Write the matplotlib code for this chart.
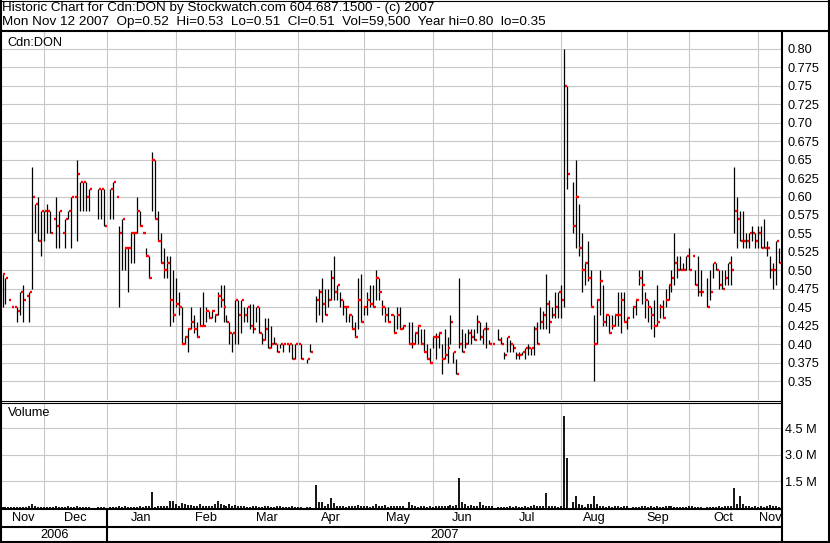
import matplotlib
matplotlib.use("Agg")
import matplotlib.pyplot as plt
import matplotlib.transforms as mtransforms
import numpy as np
import pandas as pd

plt.rcParams['font.family'] = ['Liberation Sans', 'DejaVu Sans']

# one entry per weekday from Nov 13 2006 to Nov 12 2007, None = no trade / holiday
first_day = "2006-11-13"
last_day = "2007-11-12"

high = [
    # Nov 2006
    .495, .49, .46, .45, .45, .45, .47, .48, .465, .47, .64, .59, .60, .58,
    # Dec
    .58, .59, .58, .57, .60, .58, .55, .57, .58, .60, .60, .65, .62, .62, .62, .61, None, None, .61, .61, .61,
    # Jan 2007
    None, .61, .62, .60, .56, .57, .53, .53, .55, .55, .60, .58, .55, .53, .52, .66, .65, .58, .55, .53, .52, .52, .50,
    # Feb
    .49, .47, .45, .41, .42, .45, .44, .43, .45, .47, .45, .445, .445, .44, .47, .48, .48, .44, .43, .415,
    # Mar
    .46, .46, .46, .45, .45, .455, .455, .45, .45, .415, .435, .435, .425, .41, .40, .40, .40, .40, .40, .40, .40, .40,
    # Apr
    .40, None, .38, .40, None, .465, .475, .49, .475, .475, .50, .52, .48, .47, .46, .45, .44, .44, .43, .49, .495,
    # May
    .45, .47, .48, .48, .50, .49, .46, .45, .45, .44, .44, .45, .45, .425, None, .43, .43, .415, .425, .42, .42, .40, .395,
    # Jun
    .41, .415, .415, .40, .42, .41, .44, .39, .38, .49, .42, .415, .42, .42, .42, .44, .43, .42, .43, .405, .40,
    # Jul
    None, .42, .41, .39, .41, .405, .40, .39, .39, .39, .395, .40, .395, .425, .43, .45, .445, .495, .46, .45, .47, .47,
    # Aug
    .48, .80, .75, None, .62, .65, .59, .55, .51, .54, .50, .44, .46, .50, .48, .44, .44, .44, .44, .47, .47, .47, .435,
    # Sep
    None, .45, .46, .50, .50, .47, .46, .45, .46, .48, .455, .46, .475, .48, .50, .55, .52, .52, .51, .52,
    # Oct
    .53, .52, .50, .52, .50, None, .49, .50, .51, .51, .50, .50, .50, .51, .52, .64, .60, .58, .58, .55, .55, .56, .55,
    # Nov
    .56, .56, .57, .54, .52, .51, .54, .53,
]

low = [
    .45, .455, .46, .45, .45, .43, .44, .43, .465, .43, .475, .55, .54, .52,
    .54, .55, .55, .57, .53, .53, .55, .53, .57, .53, .60, .54, .58, .58, .58, .58, None, None, .57, .57, .56,
    None, .57, .57, .60, .45, .50, .50, .47, .51, .51, .55, .56, .55, .52, .49, .58, .57, .54, .51, .49, .49, .425, .43,
    .45, .44, .40, .40, .39, .42, .415, .41, .425, .425, .43, .435, .435, .43, .44, .45, .43, .43, .40, .39,
    .40, .40, .415, .43, .43, .42, .415, .43, .415, .40, .405, .395, .395, .40, .39, .395, .39, .40, .39, .38, .38, .40,
    .38, None, .375, .39, None, .43, .44, .43, .44, .45, .46, .46, .46, .45, .44, .43, .43, .42, .41, .42, .43,
    .44, .44, .45, .45, .46, .46, .44, .43, .43, .44, .415, .42, .42, .42, None, .40, .395, .40, .40, .40, .39, .38, .375,
    .395, .38, .395, .36, .38, .375, .40, .375, .36, .395, .39, .395, .40, .40, .405, .415, .405, .40, .395, .40, .40,
    None, .405, .40, .38, .39, .39, .39, .38, .38, .385, .38, .385, .385, .385, .40, .42, .42, .42, .415, .435, .435, .435,
    .435, .45, .61, None, .55, .53, .52, .47, .48, .485, .45, .35, .40, .44, .425, .425, .415, .42, .425, .425, .415, .43, .42,
    None, .435, .44, .48, .455, .435, .43, .42, .41, .425, .435, .435, .45, .46, .47, .48, .49, .50, .50, .50,
    .50, .52, .48, .465, .465, None, .45, .46, .49, .50, .475, .475, .48, .48, .48, .55, .53, .54, .53, .53, .53, .54, .53,
    .53, .53, .53, .52, .49, .475, .48, .51,
]

close = [
    .495, .49, .46, .45, .45, .445, .47, .46, .465, .47, .60, .59, .54, .58,
    .58, .58, .55, .57, .56, .58, .55, .57, .58, .60, .60, .63, .62, .62, .60, .61, None, None, .61, .61, .56,
    None, .61, .62, .60, .55, .57, .53, .53, .55, .55, .58, .56, .55, .52, .49, .65, .57, .54, .51, .50, .51, .46, .44,
    .455, .45, .40, .41, .42, .43, .42, .41, .425, .425, .445, .435, .445, .44, .465, .46, .45, .43, .415, .415,
    .46, .44, .46, .44, .45, .425, .42, .45, .415, .405, .42, .395, .40, .40, .39, .40, .40, .40, .40, .38, .40, .40,
    .38, None, .38, .39, None, .46, .47, .455, .44, .46, .49, .47, .48, .46, .45, .45, .44, .42, .41, .46, .43,
    .45, .46, .455, .45, .49, .47, .45, .44, .43, .44, .415, .44, .42, .425, None, .40, .40, .415, .425, .40, .39, .38, .375,
    .41, .41, .415, .38, .385, .395, .43, .39, .36, .40, .39, .40, .415, .41, .405, .43, .41, .42, .42, .40, .40,
    None, .405, .40, .385, .41, .40, .395, .385, .385, .39, .395, .395, .395, .42, .40, .43, .44, .455, .43, .44, .45, .47,
    .46, .75, .63, None, .56, .60, .53, .50, .51, .49, .45, .40, .46, .485, .43, .44, .415, .425, .44, .44, .46, .43, .435,
    None, .45, .46, .49, .48, .46, .45, .44, .425, .43, .45, .435, .46, .48, .49, .51, .50, .50, .50, .52,
    .50, .52, .48, .47, .47, None, .45, .47, .51, .50, .48, .475, .49, .51, .50, .58, .57, .54, .54, .54, .55, .55, .54,
    .55, .53, .53, .53, .50, .50, .54, .51,
]

# daily volume in thousands of shares
volume_k = [
    60, 80, 40, 50, 40, 70, 60, 80, 40, 90, 250, 100, 80, 60,
    60, 70, 50, 40, 130, 80, 50, 60, 90, 70, 40, 110, 80, 60, 70, 50, None, None, 40, 50, 30,
    None, 60, 70, 40, 90, 80, 100, 60, 70, 50, 80, 90, 60, 130, 100, 920, 80, 130, 90, 130, 120, 380, 380,
    220, 130, 280, 220, 160, 160, 120, 120, 200, 120, 90, 90, 130, 200, 400, 240, 150, 90, 200, 120,
    160, 120, 90, 110, 70, 80, 100, 120, 80, 70, 90, 110, 80, 60, 120, 90, 70, 60, 80, 100, 60, 50,
    80, None, 50, 70, None, 1300, 320, 320, 130, 200, 570, 290, 130, 100, 90, 80, 90, 110, 100, 160, 130,
    90, 100, 80, 120, 200, 110, 90, 150, 80, 100, 130, 120, 140, 90, None, 320, 150, 90, 80, 110, 100, 70, 120,
    80, 100, 90, 140, 120, 100, 160, 130, 150, 1700, 320, 210, 110, 170, 100, 90, 320, 160, 100, 90, 110,
    None, 60, 70, 80, 60, 90, 80, 100, 60, 70, 90, 80, 130, 150, 90, 100, 120, 870, 100, 130, 110, 60,
    120, 5200, 2840, None, 350, 700, 200, 150, 60, 250, 250, 700, 200, 100, 90, 80, 110, 70, 90, 120, 80, 100, 110,
    None, 60, 70, 80, 110, 90, 80, 100, 80, 90, 60, 70, 100, 110, 90, 70, 80, 70, 60, 70,
    110, 100, 70, 60, 80, None, 70, 60, 80, 60, 100, 80, 90, 120, 100, 1100, 250, 650, 200, 100, 90, 80, 100,
    80, 90, 70, 100, 150, 120, 140, 60,
]

month_labels = ["Nov", "Dec", "Jan", "Feb", "Mar", "Apr", "May", "Jun", "Jul", "Aug", "Sep", "Oct", "Nov"]
year_labels = ["2006", "2007"]
price_ticks = np.arange(0.35, 0.8001, 0.025)
vol_ticks = [1.5e6, 3.0e6, 4.5e6]
vol_labels = ["1.5 M", "3.0 M", "4.5 M"]

header1 = "Historic Chart for Cdn:DON by Stockwatch.com 604.687.1500 - (c) 2007"
header2 = ("Mon Nov 12 2007  Op=0.52  Hi=0.53  Lo=0.51  Cl=0.51  Vol=59,500  "
           "Year hi=0.80  lo=0.35")

days = pd.bdate_range(first_day, last_day)
assert len(days) == len(high) == len(low) == len(close) == len(volume_k)
x = np.arange(len(days))
h = np.array(high, dtype=float)
l = np.array(low, dtype=float)
c = np.array(close, dtype=float)
v = np.array(volume_k, dtype=float) * 1000

# month grid lines: first trading weekday, or the Friday before if the 1st is a weekend
grid_x = []
for ms in pd.date_range("2006-12-01", "2007-11-01", freq="MS"):
    i = days.searchsorted(ms)
    if ms.weekday() >= 5:
        i -= 1
    grid_x.append(i)
jan_x = grid_x[1]

x_lo, x_hi = -0.17, 261.0
W, H = 830, 543


def box(left, top, right, bottom):
    return [left / W, 1 - bottom / H, (right - left) / W, (bottom - top) / H]


fig = plt.figure(figsize=(8.3, 5.43), dpi=100)
ax_p = fig.add_axes(box(2, 32, 782, 400))
ax_v = fig.add_axes(box(2, 403, 782, 508))
ov = fig.add_axes([0, 0, 1, 1])
ov.set_xlim(0, W)
ov.set_ylim(H, 0)
ov.axis('off')
ov.set_zorder(5)

gcol = '#c8c8c8'
fs = 9.2
fs_head = 9.7

# price panel: high-low bar with red close tick on the right
ok = ~np.isnan(c)
ax_p.vlines(x[ok], l[ok], h[ok], colors='black', linewidth=0.9)
ax_p.hlines(c[ok], x[ok] + 0.18, x[ok] + 1.0, colors='#ff0000', linewidth=1.7, zorder=3)
ax_p.set_xlim(x_lo, x_hi)
ax_p.set_ylim(0.3243, 0.8229)
ax_p.set_xticks(grid_x)
ax_p.set_yticks(price_ticks)
ax_p.set_yticklabels([(f"{t:.3f}"[:-1] if f"{t:.3f}".endswith("0") else f"{t:.3f}") for t in price_ticks])
ax_p.yaxis.tick_right()
ax_p.tick_params(axis='x', length=0, labelbottom=False)
ax_p.tick_params(axis='y', length=0, pad=3.6, labelsize=fs)
ax_p.grid(True, color=gcol, linewidth=0.8)
ax_p.set_axisbelow(True)
for s in ax_p.spines.values():
    s.set_visible(False)
ax_p.text(0.007, 0.987, "Cdn:DON", transform=ax_p.transAxes, va='top', ha='left', fontsize=fs)

# volume panel
okv = ~np.isnan(v)
ax_v.vlines(x[okv], 0, v[okv], colors='black', linewidth=1.3)
ax_v.set_xlim(x_lo, x_hi)
ax_v.set_ylim(0, 5.92e6)
ax_v.set_xticks(grid_x)
ax_v.set_yticks(vol_ticks)
ax_v.set_yticklabels(vol_labels)
ax_v.yaxis.tick_right()
ax_v.tick_params(axis='x', length=0, labelbottom=False)
ax_v.tick_params(axis='y', length=0, pad=2.5, labelsize=fs)
ax_v.grid(True, color=gcol, linewidth=0.8)
ax_v.set_axisbelow(True)
for s in ax_v.spines.values():
    s.set_visible(False)
ax_v.text(0.008, 0.96, "Volume", transform=ax_v.transAxes, va='top', ha='left', fontsize=fs)

# frame lines (pixel coordinates)
k = dict(color='black', clip_on=False, solid_capstyle='butt')
ov.plot([0, W], [31, 31], lw=1.5, **k)
ov.plot([1, 1], [0, H], lw=1.5, **k)
ov.plot([W - 1, W - 1], [0, H], lw=1.5, **k)
ov.plot([0, W], [H - 1, H - 1], lw=1.5, **k)
ov.plot([0, W], [0.5, 0.5], lw=0.8, **k)
ov.plot([782, 782], [31, H], lw=1.5, **k)
ov.plot([0, 782], [400.5, 400.5], lw=0.8, **k)
ov.plot([0, 782], [402.5, 402.5], lw=0.8, **k)
ov.plot([0, 782], [509, 509], lw=1.5, **k)
ov.plot([0, 782], [526.5, 526.5], lw=1.5, **k)

# month and year rows
tr = mtransforms.blended_transform_factory(ax_v.transData, ov.transData)
edges = [x_lo] + grid_x + [x_hi]
for name, a, b in zip(month_labels, edges[:-1], edges[1:]):
    ov.text((a + b) / 2, 518, name, transform=tr, ha='center', va='center', fontsize=fs)
ov.text((x_lo + jan_x) / 2, 534.5, year_labels[0], transform=tr, ha='center', va='center', fontsize=fs)
ov.text((jan_x + x_hi) / 2, 534.5, year_labels[1], transform=tr, ha='center', va='center', fontsize=fs)
ov.plot([jan_x, jan_x], [509, H], transform=tr, lw=1.5, **k)

# header
ov.text(2, 1.5, header1, ha='left', va='top', fontsize=fs_head)
ov.text(2, 15.5, header2, ha='left', va='top', fontsize=fs_head)

fig.savefig("out.png", dpi=100)
